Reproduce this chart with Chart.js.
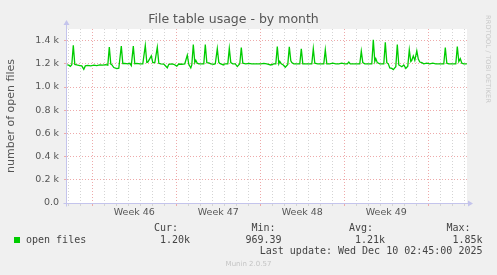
<!DOCTYPE html>
<html>
<head>
<meta charset="utf-8">
<script src="https://cdn.jsdelivr.net/npm/chart.js@4/dist/chart.umd.min.js"></script>
<style>
  html, body { margin: 0; padding: 0; background: #f0f0f0; }
  #wrap { position: relative; width: 497px; height: 275px; background: #f0f0f0; overflow: hidden; }
  canvas { position: absolute; left: 0; top: 0; }
  .mono { position: absolute; font-family: "DejaVu Sans Mono", monospace; font-size: 10px; line-height: 12px; color: #444; white-space: pre; }
  .r { text-align: right; }
  #sq { position: absolute; left: 14px; top: 237px; width: 6px; height: 6px; background: #00cc00; }
  #munin { position: absolute; left: 0; width: 497px; top: 259px; text-align: center; font-family: "DejaVu Sans", sans-serif; font-size: 7px; line-height: 10px; color: #c4c4c4; }
  #rrd { position: absolute; left: 484px; top: 15px; writing-mode: vertical-rl; font-family: "DejaVu Sans", sans-serif; font-size: 6.5px; color: #c8c8c8; letter-spacing: 0.2px; white-space: nowrap; }
</style>
</head>
<body>
<div id="wrap">
  <canvas id="c" width="497" height="275"></canvas>
  <div id="sq"></div>
  <div id="legend"></div>
  <div id="munin">Munin 2.0.57</div>
  <div id="rrd">RRDTOOL / TOBI OETIKER</div>
</div>
<script>
// ---- data ----
const chartTitle = 'File table usage - by month';
const yAxisTitle = 'number of open files';
const seriesName = 'open files';
// hours relative to start of Week 46 (Mon 00:00)
const hours = [
  -50, -47, -44, -41, -38, -35, -31, -25, -21, -17, -14, -9, -3, 3, 9, 15, 21, 27, 31, 34, 37, 39, 43, 49, 53, 58, 61, 65, 71, 75, 78, 82, 85, 89, 95, 101, 106, 109, 111, 115, 118, 121, 125, 130, 133, 137, 143, 150, 153, 159, 163, 169, 173, 179, 185, 190, 193, 197, 199, 202, 205, 207, 210, 213, 219, 223, 226, 229, 233, 237, 243, 246, 250, 253, 255, 262, 265, 271, 274, 277, 281, 286, 290, 295, 298, 301, 307, 313, 319, 325, 331, 337, 343, 349, 357, 363, 367, 370, 373, 375, 378, 382, 386, 391, 394, 397, 399, 403, 409, 415, 418, 421, 427, 433, 439, 442, 445, 451, 457, 463, 466, 469, 475, 481, 487, 493, 499, 505, 510, 513, 516, 523, 529, 535, 538, 541, 545, 551, 559, 562, 565, 567, 570, 575, 583, 586, 589, 592, 595, 599, 602, 605, 607, 610, 613, 615, 619, 623, 627, 631, 634, 637, 639, 642, 645, 649, 652, 655, 659, 663, 669, 675, 681, 687, 693, 703, 706, 709, 713, 719, 727, 730, 733, 736, 739, 743, 749
];
const openFiles = [
  1190, 1188, 1178, 1192, 1360, 1195, 1190, 1185, 1182, 1152, 1182, 1186, 1183, 1188, 1184, 1190, 1188, 1192, 1188, 1345, 1198, 1192, 1168, 1158, 1162, 1352, 1203, 1204, 1200, 1204, 1184, 1352, 1200, 1204, 1200, 1200, 1358, 1212, 1214, 1245, 1268, 1210, 1210, 1342, 1204, 1200, 1198, 1166, 1196, 1200, 1196, 1180, 1198, 1196, 1200, 1275, 1195, 1164, 1190, 1366, 1210, 1230, 1205, 1200, 1200, 1200, 1366, 1210, 1208, 1200, 1196, 1200, 1330, 1212, 1204, 1190, 1200, 1200, 1332, 1210, 1200, 1200, 1176, 1200, 1340, 1205, 1200, 1204, 1200, 1200, 1200, 1200, 1204, 1200, 1190, 1200, 1200, 1349, 1200, 1220, 1200, 1190, 1170, 1195, 1347, 1225, 1210, 1200, 1200, 1200, 1330, 1200, 1200, 1200, 1200, 1330, 1205, 1200, 1200, 1200, 1320, 1200, 1200, 1205, 1200, 1200, 1205, 1200, 1200, 1215, 1200, 1200, 1200, 1200, 1308, 1210, 1200, 1200, 1200, 1406, 1220, 1245, 1210, 1200, 1200, 1385, 1210, 1200, 1165, 1160, 1150, 1165, 1175, 1366, 1190, 1185, 1175, 1190, 1160, 1180, 1320, 1220, 1230, 1268, 1230, 1312, 1240, 1215, 1210, 1200, 1205, 1200, 1205, 1200, 1200, 1200, 1340, 1205, 1200, 1200, 1200, 1349, 1220, 1245, 1205, 1200, 1200
];
const xRange = [-50.6, 749.4];
const yRange = [0, 1500];
const weekTickHours = [72, 240, 408, 576];
const weekLabels = ['Week 46', 'Week 47', 'Week 48', 'Week 49'];
const statNames = ['Cur:', 'Min:', 'Avg:', 'Max:'];
const statValues = ['1.20k', '969.39', '1.21k', '1.85k'];
const lastUpdate = 'Last update: Wed Dec 10 02:45:00 2025';

// ---- legend (HTML text) ----
const legend = document.getElementById('legend');
function addText(txt, opts) {
  const d = document.createElement('div');
  d.className = 'mono' + (opts.right !== undefined ? ' r' : '');
  d.textContent = txt;
  if (opts.left !== undefined) d.style.left = opts.left + 'px';
  if (opts.right !== undefined) d.style.right = opts.right + 'px';
  d.style.top = opts.top + 'px';
  legend.appendChild(d);
}
addText(seriesName, { left: 26, top: 233.5 });
const nameLefts = [154, 251.5, 349, 446.5];
const valueRights = [307, 215.5, 112, 14.5];
statNames.forEach((n, i) => addText(n, { left: nameLefts[i], top: 222 }));
statValues.forEach((v, i) => addText(v, { right: valueRights[i], top: 233.5 }));
addText(lastUpdate, { right: 14.5, top: 245 });

// ---- chart ----
const points = hours.map((h, i) => ({ x: h, y: openFiles[i] }));
const majorRed = 'rgba(238,170,170,1)';
const minorGray = 'rgba(212,212,212,1)';

const bgPlugin = {
  id: 'bg',
  beforeDraw(chart) {
    const { ctx, chartArea: a } = chart;
    ctx.save();
    ctx.fillStyle = '#ffffff';
    ctx.fillRect(a.left, a.top, a.right - a.left, a.bottom - a.top);
    ctx.restore();
  },
  afterDraw(chart) {
    const { ctx, chartArea: a } = chart;
    ctx.save();
    ctx.strokeStyle = '#c4c4ec';
    ctx.fillStyle = '#c4c4ec';
    ctx.lineWidth = 1;
    const bx = Math.round(a.left) - 0.5, by = Math.round(a.bottom) + 0.5;
    ctx.beginPath();
    ctx.moveTo(bx - 3, by); ctx.lineTo(a.right + 2, by);
    ctx.moveTo(bx, by + 3); ctx.lineTo(bx, a.top - 5);
    ctx.stroke();
    ctx.beginPath();
    ctx.moveTo(a.right + 6, by); ctx.lineTo(a.right + 1, by - 3); ctx.lineTo(a.right + 1, by + 3); ctx.closePath();
    ctx.fill();
    ctx.beginPath();
    ctx.moveTo(bx, a.top - 9); ctx.lineTo(bx - 3, a.top - 4); ctx.lineTo(bx + 3, a.top - 4); ctx.closePath();
    ctx.fill();
    ctx.restore();
  }
};

new Chart(document.getElementById('c'), {
  type: 'line',
  data: {
    datasets: [{
      label: seriesName,
      data: points,
      borderColor: '#00cc00',
      borderWidth: 1.3,
      pointRadius: 0,
      tension: 0,
      fill: false
    }]
  },
  options: {
    responsive: false,
    animation: false,
    devicePixelRatio: 1,
    layout: { padding: { left: 0, right: 30, top: 0, bottom: 0 } },
    plugins: {
      legend: { display: false },
      tooltip: { enabled: false },
      title: {
        display: true,
        text: chartTitle,
        color: '#555',
        font: { family: 'DejaVu Sans', size: 12.5, weight: 'normal' },
        padding: { top: 12, bottom: 2 }
      }
    },
    scales: {
      x: {
        type: 'linear',
        min: xRange[0],
        max: xRange[1],
        afterFit(s) { s.height = 72; },
        afterBuildTicks(s) {
          const t = [];
          for (let v = Math.ceil(xRange[0] / 24) * 24; v <= xRange[1]; v += 24) t.push({ value: v });
          s.ticks = t;
        },
        ticks: {
          autoSkip: false,
          maxRotation: 0,
          padding: 1,
          labelOffset: 6,
          color: '#555',
          font: { family: 'DejaVu Sans', size: 9.5 },
          callback(v) {
            const i = weekTickHours.indexOf(v);
            return i >= 0 ? weekLabels[i] : '';
          }
        },
        grid: {
          drawTicks: true,
          tickLength: 3,
          color(ctx) { return ctx.tick && ctx.tick.value % 168 === 0 ? majorRed : minorGray; },
          tickColor(ctx) { return ctx.tick && ctx.tick.value % 168 === 0 ? majorRed : minorGray; },
          lineWidth: 1
        },
        border: { display: false, dash: [1, 2] }
      },
      y: {
        min: yRange[0],
        max: yRange[1],
        afterFit(s) { s.width = 67; },
        afterBuildTicks(s) {
          const t = [];
          for (let v = yRange[0]; v <= yRange[1]; v += 100) t.push({ value: v });
          s.ticks = t;
        },
        ticks: {
          padding: 5,
          color: '#555',
          font: { family: 'DejaVu Sans', size: 9.5 },
          callback(v) {
            if (v % 200 !== 0 || v > 1400) return '';
            return v === 0 ? '0.0' : (v / 1000).toFixed(1) + ' k';
          }
        },
        grid: {
          drawTicks: true,
          tickLength: 3,
          color(ctx) { return ctx.tick && ctx.tick.value % 200 === 0 && ctx.tick.value > 0 ? majorRed : minorGray; },
          tickColor(ctx) { return ctx.tick && ctx.tick.value % 200 === 0 ? majorRed : minorGray; },
          lineWidth: 1
        },
        border: { display: false, dash: [1, 2] },
        title: {
          display: true,
          text: yAxisTitle,
          color: '#555',
          font: { family: 'DejaVu Sans', size: 11 },
          padding: { top: 5, bottom: 0 }
        }
      }
    }
  },
  plugins: [bgPlugin]
});
</script>
</body>
</html>
